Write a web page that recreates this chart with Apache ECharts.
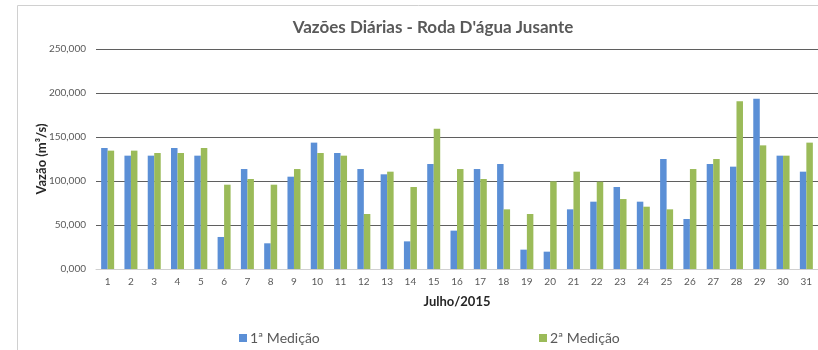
<!DOCTYPE html>
<html>
<head>
<meta charset="utf-8">
<script src="https://cdn.jsdelivr.net/npm/echarts@6/dist/echarts.min.js"></script>
<style>
  html, body { margin: 0; padding: 0; background: #fff; }
  #chart { width: 818px; height: 350px; }
</style>
</head>
<body>
<div id="chart"></div>
<script>
// Dias de julho/2015
const dias = ['1','2','3','4','5','6','7','8','9','10','11','12','13','14','15','16','17','18','19','20','21','22','23','24','25','26','27','28','29','30','31'];

// Vazões medidas (m³/s)
const medicao1 = [137.5,128.8,128.8,137.5,128.8,36.4,113.6,29.2,104.9,143.6,131.8,113.6,107.6,31.4,119.3,43.6,113.6,119.3,22.0,19.7,67.8,76.5,93.2,76.5,125.0,56.8,119.3,116.3,193.6,128.8,110.6];
const medicao2 = [134.5,134.5,131.8,131.8,137.5,95.8,102.3,95.8,113.6,131.8,128.8,62.5,110.6,93.2,159.5,113.6,102.3,67.8,62.5,99.6,110.6,99.2,79.5,70.8,67.8,113.6,125.0,190.5,140.5,128.8,143.6];

const nomes = ['1ª Medição', '2ª Medição'];
const cores = ['#5B8FD6', '#9BBB59'];

const fonte = 'Lato, "Open Sans", sans-serif';

const chart = echarts.init(document.getElementById('chart'), null, { renderer: 'canvas' });

chart.setOption({
  animation: false,
  color: cores,
  textStyle: { fontFamily: fonte },
  graphic: [{
    type: 'rect',
    silent: true,
    shape: { x: 17.5, y: 5.5, width: 900, height: 400 },
    style: { fill: 'none', stroke: '#d0d0d0', lineWidth: 1 }
  }],
  title: {
    text: 'Vazões Diárias - Roda D\'água Jusante',
    left: 428,
    textAlign: 'center',
    top: 14,
    textStyle: { fontFamily: fonte, fontSize: 17, fontWeight: 'bold', color: '#595959' }
  },
  legend: [{
    data: [nomes[0]],
    left: 234,
    top: 326,
    icon: 'rect',
    itemWidth: 8,
    itemHeight: 8,
    itemGap: 5,
    textStyle: { fontFamily: fonte, fontSize: 14, color: '#595959', padding: [0, 0, 0, -2] }
  }, {
    data: [nomes[1]],
    left: 534,
    top: 326,
    icon: 'rect',
    itemWidth: 8,
    itemHeight: 8,
    itemGap: 5,
    textStyle: { fontFamily: fonte, fontSize: 14, color: '#595959', padding: [0, 0, 0, -2] }
  }],
  grid: { left: 96, right: -2, top: 49, bottom: 81, containLabel: false },
  xAxis: {
    type: 'category',
    data: dias,
    name: 'Julho/2015',
    nameLocation: 'middle',
    nameGap: 26,
    nameTextStyle: { fontFamily: fonte, fontSize: 13, fontWeight: 'bold', color: '#262626' },
    axisLine: { lineStyle: { color: '#d0d0d0', width: 1 } },
    axisTick: { show: false },
    axisLabel: { fontFamily: fonte, fontSize: 10, color: '#595959', margin: 8, interval: 0 }
  },
  yAxis: {
    type: 'value',
    min: 0,
    max: 250,
    interval: 50,
    name: 'Vazão (m³/s)',
    nameLocation: 'middle',
    nameGap: 48,
    nameMoveOverlap: false,
    nameRotate: 90,
    nameTextStyle: { fontFamily: fonte, fontSize: 13, fontWeight: 'bold', color: '#262626' },
    axisLine: { show: false },
    axisTick: { show: false },
    axisLabel: {
      fontFamily: fonte, fontSize: 10, color: '#595959', margin: 10,
      formatter: v => v.toFixed(3).replace('.', ',')
    },
    splitLine: { lineStyle: { color: '#5f5f5f', width: 1 } }
  },
  series: [{
    name: nomes[0],
    type: 'bar',
    data: medicao1,
    barWidth: 6.5,
    barGap: '0%',
    itemStyle: { color: cores[0] }
  }, {
    name: nomes[1],
    type: 'bar',
    data: medicao2,
    barWidth: 6.5,
    barGap: '0%',
    itemStyle: { color: cores[1] }
  }]
});
</script>
</body>
</html>
